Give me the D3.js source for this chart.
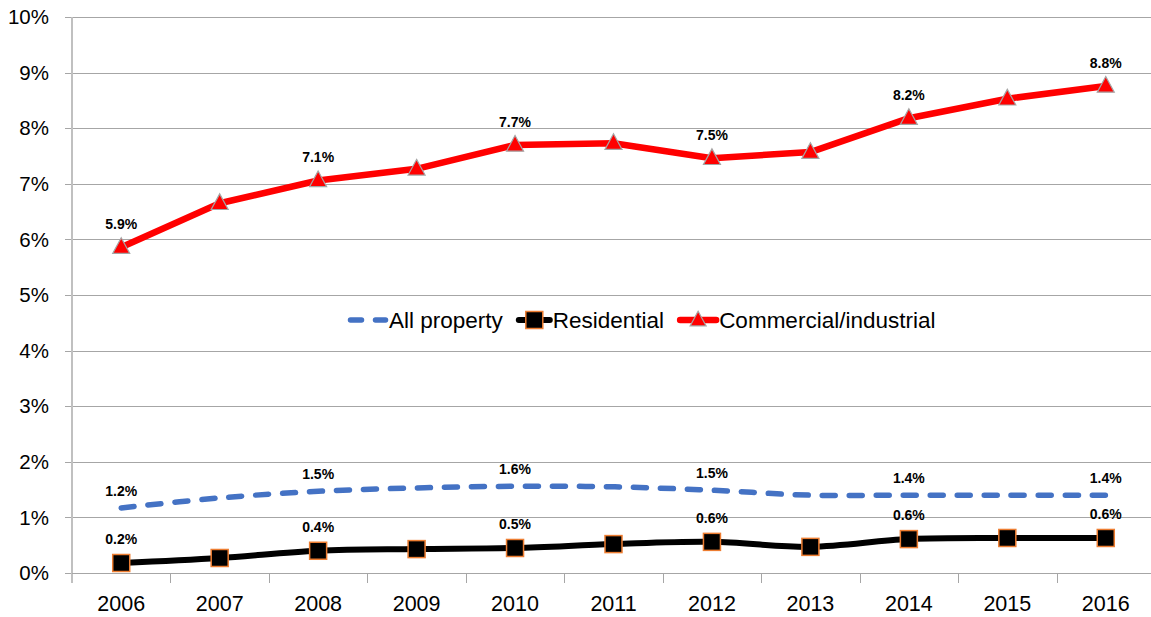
<!DOCTYPE html>
<html>
<head>
<meta charset="utf-8">
<script src="https://cdn.jsdelivr.net/npm/d3@7"></script>
<style>
  html, body { margin: 0; padding: 0; background: #fff; }
  svg { display: block; font-family: "Liberation Sans", Arial, sans-serif; }
</style>
</head>
<body>
<svg id="chart" width="1151" height="617"></svg>
<script>
// Property tax growth by class, 2006-2016 (percent)
const years = ["2006","2007","2008","2009","2010","2011","2012","2013","2014","2015","2016"];
const allProperty = [1.17, 1.35, 1.47, 1.53, 1.56, 1.55, 1.49, 1.40, 1.40, 1.40, 1.40];
const residential = [0.18, 0.27, 0.40, 0.43, 0.45, 0.52, 0.56, 0.47, 0.61, 0.63, 0.63];
const commercial = [5.86, 6.65, 7.06, 7.27, 7.70, 7.73, 7.46, 7.57, 8.18, 8.53, 8.76];
const yTicks = [0, 1, 2, 3, 4, 5, 6, 7, 8, 9, 10];
const labelledYears = ["2006","2008","2010","2012","2014","2016"];

const svg = d3.select("#chart");
const x = d3.scaleBand().domain(years).range([72, 1155]);
const y = d3.scaleLinear().domain([0, 10]).range([573, 17]);
const cx = d => x(d) + x.bandwidth() / 2;
const fmt = v => v.toFixed(1) + "%";

// horizontal gridlines
svg.append("g").selectAll("line").data(yTicks).join("line")
  .attr("x1", 65).attr("x2", 1151)
  .attr("y1", d => Math.round(y(d)) + 0.5).attr("y2", d => Math.round(y(d)) + 0.5)
  .attr("stroke", "#a6a6a6").attr("stroke-width", 1);

// vertical axis line
svg.append("line").attr("x1", 72).attr("x2", 72).attr("y1", y(10)).attr("y2", 583)
  .attr("stroke", "#c0c0c0").attr("stroke-width", 2);

// y tick labels
svg.append("g").selectAll("text").data(yTicks).join("text")
  .attr("x", 49).attr("y", d => y(d)).attr("dy", "0.35em")
  .attr("text-anchor", "end").attr("font-size", "20.5px").attr("fill", "#000")
  .text(d => d + "%");

// x axis with ticks between categories
const xAxis = d3.axisBottom(x).tickSize(0).tickPadding(23);
const gx = svg.append("g").attr("transform", "translate(0,573)").call(xAxis);
gx.select(".domain").remove();
gx.selectAll("text").attr("font-size", "21.5px").attr("fill", "#000")
  .attr("font-family", "Liberation Sans, Arial, sans-serif");
svg.append("line").attr("x1", 72).attr("x2", 1151).attr("y1", 573.5).attr("y2", 573.5)
  .attr("stroke", "#a6a6a6");
svg.append("g").selectAll("line").data(years.slice(1)).join("line")
  .attr("x1", d => Math.round(x(d)) + 0.5).attr("x2", d => Math.round(x(d)) + 0.5)
  .attr("y1", 573).attr("y2", 583)
  .attr("stroke", "#a6a6a6");

const series = [
  { name: "All property", values: allProperty, color: "#4472C4", width: 5.5, dash: "13,14", curve: d3.curveCatmullRom.alpha(0.5), marker: null, labelDy: -17 },
  { name: "Residential", values: residential, color: "#000000", width: 6, dash: null, curve: d3.curveCatmullRom.alpha(0.5), marker: "square", labelDy: -24 },
  { name: "Commercial/industrial", values: commercial, color: "#FF0000", width: 6.5, dash: null, curve: d3.curveLinear, marker: "triangle", labelDy: -23 }
];

function drawMarker(g, type, size) {
  if (type === "square") {
    g.append("rect").attr("x", -size / 2).attr("y", -size / 2)
      .attr("width", size).attr("height", size)
      .attr("fill", "#000").attr("stroke", "#ED7D31").attr("stroke-width", 1.5);
  } else if (type === "triangle") {
    const w = size, h = size * 0.92;
    g.append("path")
      .attr("d", `M0,${-h * 0.6}L${w / 2},${h * 0.4}L${-w / 2},${h * 0.4}Z`)
      .attr("fill", "#FF0000").attr("stroke", "#a5a5a5").attr("stroke-width", 1.2);
  }
}

series.forEach(s => {
  const pts = years.map((yr, i) => ({ yr, v: s.values[i] }));
  const line = d3.line().x(d => cx(d.yr)).y(d => y(d.v)).curve(s.curve);
  svg.append("path").datum(pts).attr("d", line)
    .attr("fill", "none").attr("stroke", s.color).attr("stroke-width", s.width)
    .attr("stroke-linecap", s.dash ? "round" : "butt").attr("stroke-linejoin", "round")
    .attr("stroke-dasharray", s.dash);

  if (s.marker) {
    pts.forEach(p => {
      const g = svg.append("g").attr("transform", `translate(${cx(p.yr)},${y(p.v)})`);
      drawMarker(g, s.marker, 17);
    });
  }

  svg.append("g").selectAll("text").data(pts.filter(p => labelledYears.includes(p.yr))).join("text")
    .attr("x", p => cx(p.yr)).attr("y", p => y(p.v) + s.labelDy).attr("dy", "0.35em")
    .attr("text-anchor", "middle").attr("font-size", "14px").attr("font-weight", "bold")
    .attr("fill", "#000").text(p => fmt(p.v));
});

// legend
const legend = svg.append("g").attr("transform", "translate(348,320)");
let lx = 0;
series.forEach(s => {
  const g = legend.append("g").attr("transform", `translate(${lx},0)`);
  const symW = s.dash ? 40 : (s.marker === "square" ? 35 : 40);
  if (s.dash) {
    g.append("line").attr("x1", 2.5).attr("x2", symW - 2.5).attr("y1", 0).attr("y2", 0)
      .attr("stroke", s.color).attr("stroke-width", s.width)
      .attr("stroke-linecap", "round").attr("stroke-dasharray", "11,14");
  } else {
    g.append("line").attr("x1", 2).attr("x2", symW - 2).attr("y1", 0).attr("y2", 0)
      .attr("stroke", s.color).attr("stroke-width", s.width).attr("stroke-linecap", "round");
    const m = g.append("g").attr("transform", `translate(${symW / 2},0)`);
    drawMarker(m, s.marker, s.marker === "square" ? 17 : 16);
  }
  const t = g.append("text").attr("x", symW + 1).attr("y", 0).attr("dy", "0.35em")
    .attr("font-size", "22.5px").attr("fill", "#000").text(s.name);
  lx += symW + 1 + t.node().getComputedTextLength() + 14;
});
</script>
</body>
</html>
